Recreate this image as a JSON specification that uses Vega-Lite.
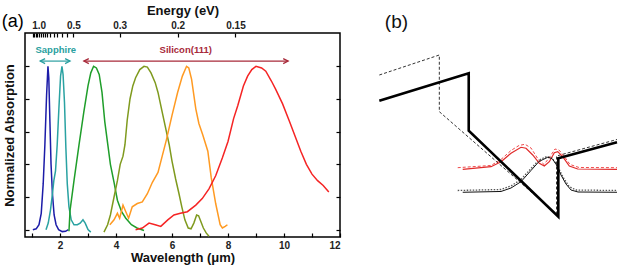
{
  "$schema": "https://vega.github.io/schema/vega-lite/v6.json",
  "padding": {"left": 0, "top": 3, "right": 0, "bottom": 0},
  "spacing": 32,
  "config": {"font": "Liberation Sans", "view": {"stroke": null}},
  "datasets": {
    "spectra": [
      {"band": "1.6 µm", "lam": 1.03, "a": 0.0}, {"band": "1.6 µm", "lam": 1.15, "a": 0.005}, {"band": "1.6 µm", "lam": 1.25, "a": 0.03}, {"band": "1.6 µm", "lam": 1.33, "a": 0.1}, {"band": "1.6 µm", "lam": 1.4, "a": 0.28}, {"band": "1.6 µm", "lam": 1.46, "a": 0.52}, {"band": "1.6 µm", "lam": 1.52, "a": 0.82}, {"band": "1.6 µm", "lam": 1.57, "a": 1.0}, {"band": "1.6 µm", "lam": 1.6, "a": 0.93}, {"band": "1.6 µm", "lam": 1.64, "a": 0.66}, {"band": "1.6 µm", "lam": 1.68, "a": 0.4}, {"band": "1.6 µm", "lam": 1.73, "a": 0.22}, {"band": "1.6 µm", "lam": 1.79, "a": 0.09}, {"band": "1.6 µm", "lam": 1.86, "a": 0.03}, {"band": "1.6 µm", "lam": 1.95, "a": 0.0}, {"band": "1.6 µm", "lam": 2.08, "a": -0.012}, {"band": "1.6 µm", "lam": 2.2, "a": -0.01}, {"band": "1.6 µm", "lam": 2.3, "a": 0.0},
      {"band": "2.1 µm", "lam": 1.5, "a": 0.0}, {"band": "2.1 µm", "lam": 1.58, "a": 0.04}, {"band": "2.1 µm", "lam": 1.66, "a": 0.12}, {"band": "2.1 µm", "lam": 1.73, "a": 0.22}, {"band": "2.1 µm", "lam": 1.78, "a": 0.3}, {"band": "2.1 µm", "lam": 1.84, "a": 0.36}, {"band": "2.1 µm", "lam": 1.9, "a": 0.52}, {"band": "2.1 µm", "lam": 1.96, "a": 0.74}, {"band": "2.1 µm", "lam": 2.02, "a": 0.94}, {"band": "2.1 µm", "lam": 2.07, "a": 1.0}, {"band": "2.1 µm", "lam": 2.11, "a": 0.95}, {"band": "2.1 µm", "lam": 2.16, "a": 0.78}, {"band": "2.1 µm", "lam": 2.21, "a": 0.5}, {"band": "2.1 µm", "lam": 2.26, "a": 0.28}, {"band": "2.1 µm", "lam": 2.32, "a": 0.14}, {"band": "2.1 µm", "lam": 2.4, "a": 0.06}, {"band": "2.1 µm", "lam": 2.5, "a": 0.03}, {"band": "2.1 µm", "lam": 2.62, "a": 0.03}, {"band": "2.1 µm", "lam": 2.72, "a": 0.04}, {"band": "2.1 µm", "lam": 2.82, "a": 0.06}, {"band": "2.1 µm", "lam": 2.9, "a": 0.04}, {"band": "2.1 µm", "lam": 3.0, "a": 0.0}, {"band": "2.1 µm", "lam": 3.1, "a": -0.015},
      {"band": "3.2 µm", "lam": 2.32, "a": -0.01}, {"band": "3.2 µm", "lam": 2.36, "a": 0.12}, {"band": "3.2 µm", "lam": 2.5, "a": 0.3}, {"band": "3.2 µm", "lam": 2.68, "a": 0.52}, {"band": "3.2 µm", "lam": 2.85, "a": 0.72}, {"band": "3.2 µm", "lam": 3.0, "a": 0.88}, {"band": "3.2 µm", "lam": 3.1, "a": 0.96}, {"band": "3.2 µm", "lam": 3.2, "a": 1.0}, {"band": "3.2 µm", "lam": 3.3, "a": 0.99}, {"band": "3.2 µm", "lam": 3.4, "a": 0.95}, {"band": "3.2 µm", "lam": 3.5, "a": 0.84}, {"band": "3.2 µm", "lam": 3.6, "a": 0.66}, {"band": "3.2 µm", "lam": 3.7, "a": 0.53}, {"band": "3.2 µm", "lam": 3.8, "a": 0.4}, {"band": "3.2 µm", "lam": 3.93, "a": 0.29}, {"band": "3.2 µm", "lam": 4.05, "a": 0.18}, {"band": "3.2 µm", "lam": 4.2, "a": 0.11}, {"band": "3.2 µm", "lam": 4.35, "a": 0.07}, {"band": "3.2 µm", "lam": 4.55, "a": 0.03}, {"band": "3.2 µm", "lam": 4.75, "a": 0.01}, {"band": "3.2 µm", "lam": 5.0, "a": -0.005},
      {"band": "5.0 µm", "lam": 3.57, "a": -0.015}, {"band": "5.0 µm", "lam": 3.7, "a": 0.03}, {"band": "5.0 µm", "lam": 3.8, "a": 0.09}, {"band": "5.0 µm", "lam": 3.93, "a": 0.2}, {"band": "5.0 µm", "lam": 4.05, "a": 0.3}, {"band": "5.0 µm", "lam": 4.15, "a": 0.4}, {"band": "5.0 µm", "lam": 4.25, "a": 0.45}, {"band": "5.0 µm", "lam": 4.32, "a": 0.52}, {"band": "5.0 µm", "lam": 4.4, "a": 0.67}, {"band": "5.0 µm", "lam": 4.5, "a": 0.8}, {"band": "5.0 µm", "lam": 4.6, "a": 0.88}, {"band": "5.0 µm", "lam": 4.7, "a": 0.93}, {"band": "5.0 µm", "lam": 4.85, "a": 0.98}, {"band": "5.0 µm", "lam": 5.0, "a": 1.0}, {"band": "5.0 µm", "lam": 5.12, "a": 0.995}, {"band": "5.0 µm", "lam": 5.25, "a": 0.96}, {"band": "5.0 µm", "lam": 5.4, "a": 0.9}, {"band": "5.0 µm", "lam": 5.5, "a": 0.84}, {"band": "5.0 µm", "lam": 5.65, "a": 0.72}, {"band": "5.0 µm", "lam": 5.8, "a": 0.6}, {"band": "5.0 µm", "lam": 5.9, "a": 0.52}, {"band": "5.0 µm", "lam": 6.0, "a": 0.42}, {"band": "5.0 µm", "lam": 6.13, "a": 0.31}, {"band": "5.0 µm", "lam": 6.25, "a": 0.22}, {"band": "5.0 µm", "lam": 6.35, "a": 0.14}, {"band": "5.0 µm", "lam": 6.46, "a": 0.06}, {"band": "5.0 µm", "lam": 6.58, "a": 0.01}, {"band": "5.0 µm", "lam": 6.68, "a": 0.005}, {"band": "5.0 µm", "lam": 6.78, "a": 0.04}, {"band": "5.0 µm", "lam": 6.88, "a": 0.09}, {"band": "5.0 µm", "lam": 6.95, "a": 0.085}, {"band": "5.0 µm", "lam": 7.03, "a": 0.05}, {"band": "5.0 µm", "lam": 7.12, "a": 0.01}, {"band": "5.0 µm", "lam": 7.22, "a": -0.02}, {"band": "5.0 µm", "lam": 7.32, "a": -0.04},
      {"band": "6.5 µm", "lam": 3.78, "a": 0.03}, {"band": "6.5 µm", "lam": 3.93, "a": 0.06}, {"band": "6.5 µm", "lam": 4.05, "a": 0.1}, {"band": "6.5 µm", "lam": 4.13, "a": 0.07}, {"band": "6.5 µm", "lam": 4.25, "a": 0.15}, {"band": "6.5 µm", "lam": 4.35, "a": 0.11}, {"band": "6.5 µm", "lam": 4.45, "a": 0.07}, {"band": "6.5 µm", "lam": 4.58, "a": 0.14}, {"band": "6.5 µm", "lam": 4.76, "a": 0.16}, {"band": "6.5 µm", "lam": 4.94, "a": 0.17}, {"band": "6.5 µm", "lam": 5.12, "a": 0.22}, {"band": "6.5 µm", "lam": 5.3, "a": 0.29}, {"band": "6.5 µm", "lam": 5.5, "a": 0.35}, {"band": "6.5 µm", "lam": 5.65, "a": 0.45}, {"band": "6.5 µm", "lam": 5.8, "a": 0.55}, {"band": "6.5 µm", "lam": 6.0, "a": 0.7}, {"band": "6.5 µm", "lam": 6.2, "a": 0.84}, {"band": "6.5 µm", "lam": 6.37, "a": 0.94}, {"band": "6.5 µm", "lam": 6.52, "a": 1.0}, {"band": "6.5 µm", "lam": 6.6, "a": 0.99}, {"band": "6.5 µm", "lam": 6.7, "a": 0.92}, {"band": "6.5 µm", "lam": 6.85, "a": 0.74}, {"band": "6.5 µm", "lam": 6.96, "a": 0.65}, {"band": "6.5 µm", "lam": 7.1, "a": 0.58}, {"band": "6.5 µm", "lam": 7.28, "a": 0.48}, {"band": "6.5 µm", "lam": 7.4, "a": 0.32}, {"band": "6.5 µm", "lam": 7.56, "a": 0.16}, {"band": "6.5 µm", "lam": 7.72, "a": 0.03}, {"band": "6.5 µm", "lam": 7.8, "a": 0.01}, {"band": "6.5 µm", "lam": 7.9, "a": 0.02}, {"band": "6.5 µm", "lam": 7.98, "a": 0.03},
      {"band": "9.0 µm", "lam": 4.7, "a": 0.0}, {"band": "9.0 µm", "lam": 4.94, "a": 0.01}, {"band": "9.0 µm", "lam": 5.18, "a": 0.04}, {"band": "9.0 µm", "lam": 5.4, "a": 0.03}, {"band": "9.0 µm", "lam": 5.6, "a": 0.02}, {"band": "9.0 µm", "lam": 5.85, "a": 0.06}, {"band": "9.0 µm", "lam": 6.07, "a": 0.09}, {"band": "9.0 µm", "lam": 6.3, "a": 0.1}, {"band": "9.0 µm", "lam": 6.55, "a": 0.11}, {"band": "9.0 µm", "lam": 6.85, "a": 0.15}, {"band": "9.0 µm", "lam": 7.08, "a": 0.19}, {"band": "9.0 µm", "lam": 7.32, "a": 0.25}, {"band": "9.0 µm", "lam": 7.56, "a": 0.33}, {"band": "9.0 µm", "lam": 7.8, "a": 0.44}, {"band": "9.0 µm", "lam": 8.0, "a": 0.54}, {"band": "9.0 µm", "lam": 8.2, "a": 0.68}, {"band": "9.0 µm", "lam": 8.35, "a": 0.76}, {"band": "9.0 µm", "lam": 8.55, "a": 0.88}, {"band": "9.0 µm", "lam": 8.7, "a": 0.94}, {"band": "9.0 µm", "lam": 8.85, "a": 0.98}, {"band": "9.0 µm", "lam": 9.0, "a": 1.0}, {"band": "9.0 µm", "lam": 9.2, "a": 0.99}, {"band": "9.0 µm", "lam": 9.35, "a": 0.97}, {"band": "9.0 µm", "lam": 9.55, "a": 0.91}, {"band": "9.0 µm", "lam": 9.7, "a": 0.86}, {"band": "9.0 µm", "lam": 9.95, "a": 0.77}, {"band": "9.0 µm", "lam": 10.2, "a": 0.66}, {"band": "9.0 µm", "lam": 10.4, "a": 0.57}, {"band": "9.0 µm", "lam": 10.6, "a": 0.48}, {"band": "9.0 µm", "lam": 10.8, "a": 0.4}, {"band": "9.0 µm", "lam": 11.0, "a": 0.34}, {"band": "9.0 µm", "lam": 11.2, "a": 0.3}, {"band": "9.0 µm", "lam": 11.4, "a": 0.27}, {"band": "9.0 µm", "lam": 11.6, "a": 0.23}
    ],
    "ranges": [
      {"band": "Sapphire", "from": 1.29, "to": 2.36, "a": 1.032, "mid": 1.85, "ta": 1.1},
      {"band": "Silicon(111)", "from": 2.85, "to": 10.15, "a": 1.032, "mid": 6.49, "ta": 1.1}
    ],
    "schematic": [
      {"curve": "band", "i": 0, "x": 0.83, "y": 34.08}, {"curve": "band", "i": 1, "x": 23.18, "y": 40.93}, {"curve": "band", "i": 2, "x": 23.18, "y": 26.58}, {"curve": "band", "i": 3, "x": 45.58, "y": 5.08}, {"curve": "band", "i": 4, "x": 45.58, "y": 19.68}, {"curve": "band", "i": 5, "x": 60.25, "y": 23.68},
      {"curve": "band2", "i": 0, "x": 0.83, "y": 40.5}, {"curve": "band2", "i": 1, "x": 15.83, "y": 45.5}, {"curve": "band2", "i": 2, "x": 15.83, "y": 31.33}, {"curve": "band2", "i": 3, "x": 45.13, "y": 5.75}, {"curve": "band2", "i": 4, "x": 45.13, "y": 20.25}, {"curve": "band2", "i": 5, "x": 60.25, "y": 24.38},
      {"curve": "red", "i": 0, "x": 21.68, "y": 16.93}, {"curve": "red", "i": 1, "x": 28.75, "y": 17.58}, {"curve": "red", "i": 2, "x": 31.25, "y": 18.83}, {"curve": "red", "i": 3, "x": 33.75, "y": 20.93}, {"curve": "red", "i": 4, "x": 36.25, "y": 22.43}, {"curve": "red", "i": 5, "x": 37.5, "y": 22.18}, {"curve": "red", "i": 6, "x": 39.18, "y": 20.5}, {"curve": "red", "i": 7, "x": 40.83, "y": 18.43}, {"curve": "red", "i": 8, "x": 42.08, "y": 17.75}, {"curve": "red", "i": 9, "x": 43.33, "y": 18.83}, {"curve": "red", "i": 10, "x": 44.58, "y": 21.08}, {"curve": "red", "i": 11, "x": 45.43, "y": 21.33}, {"curve": "red", "i": 12, "x": 46.68, "y": 20.08}, {"curve": "red", "i": 13, "x": 48.33, "y": 17.75}, {"curve": "red", "i": 14, "x": 50.43, "y": 17.0}, {"curve": "red", "i": 15, "x": 60.25, "y": 16.93},
      {"curve": "red2", "i": 0, "x": 20.43, "y": 17.33}, {"curve": "red2", "i": 1, "x": 28.75, "y": 17.88}, {"curve": "red2", "i": 2, "x": 31.25, "y": 19.38}, {"curve": "red2", "i": 3, "x": 33.75, "y": 21.63}, {"curve": "red2", "i": 4, "x": 35.75, "y": 22.88}, {"curve": "red2", "i": 5, "x": 37.25, "y": 23.18}, {"curve": "red2", "i": 6, "x": 38.75, "y": 22.25}, {"curve": "red2", "i": 7, "x": 40.5, "y": 19.5}, {"curve": "red2", "i": 8, "x": 42.0, "y": 18.13}, {"curve": "red2", "i": 9, "x": 43.25, "y": 19.75}, {"curve": "red2", "i": 10, "x": 44.75, "y": 22.0}, {"curve": "red2", "i": 11, "x": 45.75, "y": 21.75}, {"curve": "red2", "i": 12, "x": 47.0, "y": 20.25}, {"curve": "red2", "i": 13, "x": 48.5, "y": 18.13}, {"curve": "red2", "i": 14, "x": 50.75, "y": 17.38}, {"curve": "red2", "i": 15, "x": 60.25, "y": 17.33},
      {"curve": "black", "i": 0, "x": 21.68, "y": 11.18}, {"curve": "black", "i": 1, "x": 31.25, "y": 11.38}, {"curve": "black", "i": 2, "x": 33.75, "y": 12.25}, {"curve": "black", "i": 3, "x": 36.25, "y": 13.83}, {"curve": "black", "i": 4, "x": 38.75, "y": 16.63}, {"curve": "black", "i": 5, "x": 40.75, "y": 18.88}, {"curve": "black", "i": 6, "x": 42.93, "y": 19.93}, {"curve": "black", "i": 7, "x": 44.0, "y": 19.63}, {"curve": "black", "i": 8, "x": 45.0, "y": 18.25}, {"curve": "black", "i": 9, "x": 46.25, "y": 15.5}, {"curve": "black", "i": 10, "x": 47.5, "y": 13.25}, {"curve": "black", "i": 11, "x": 48.75, "y": 11.75}, {"curve": "black", "i": 12, "x": 50.5, "y": 11.25}, {"curve": "black", "i": 13, "x": 60.25, "y": 11.18},
      {"curve": "black2", "i": 0, "x": 20.43, "y": 11.63}, {"curve": "black2", "i": 1, "x": 31.25, "y": 11.88}, {"curve": "black2", "i": 2, "x": 33.75, "y": 12.75}, {"curve": "black2", "i": 3, "x": 36.25, "y": 14.38}, {"curve": "black2", "i": 4, "x": 38.75, "y": 17.13}, {"curve": "black2", "i": 5, "x": 40.75, "y": 19.25}, {"curve": "black2", "i": 6, "x": 42.75, "y": 20.13}, {"curve": "black2", "i": 7, "x": 44.0, "y": 19.75}, {"curve": "black2", "i": 8, "x": 45.25, "y": 18.0}, {"curve": "black2", "i": 9, "x": 46.75, "y": 15.0}, {"curve": "black2", "i": 10, "x": 48.25, "y": 12.63}, {"curve": "black2", "i": 11, "x": 50.0, "y": 11.75}, {"curve": "black2", "i": 12, "x": 60.25, "y": 11.63}
    ]
  },
  "hconcat": [
    {
      "width": 315,
      "height": 204,
      "view": {"stroke": "black", "strokeWidth": 1.5},
      "resolve": {"axis": {"x": "independent", "y": "independent"}},
      "layer": [
        {
          "data": {"name": "spectra"},
          "mark": {"type": "line", "strokeWidth": 1.5},
          "encoding": {
            "x": {"field": "lam", "type": "quantitative", "scale": {"domain": [0.75, 12], "nice": false, "zero": false},
              "axis": {"orient": "bottom", "values": [1, 2, 3, 4, 5, 6, 7, 8, 9, 10, 11, 12], "labelExpr": "datum.value % 2 == 0 ? datum.label : ''",
                "domain": false, "grid": false, "tickSize": -4, "tickColor": "black", "tickWidth": 1.2, "labelPadding": 7,
                "labelFontSize": 10, "labelFontWeight": "bold", "labelColor": "#222", "labelFont": "Liberation Sans",
                "title": "Wavelength (μm)", "titleFontSize": 13, "titleFontWeight": "bold", "titleColor": "#111", "titlePadding": 1, "titleFont": "Liberation Sans"}},
            "y": {"field": "a", "type": "quantitative", "scale": {"domain": [-0.045, 1.204], "nice": false, "zero": false},
              "axis": {"orient": "left", "values": [0, 0.2, 0.4, 0.6, 0.8, 1.0], "labels": false, "domain": false, "grid": false,
                "tickSize": -4, "tickColor": "black", "tickWidth": 1.2,
                "title": "Normalized Absorption", "titleFontSize": 13, "titleFontWeight": "bold", "titleColor": "#111", "titlePadding": 8, "titleFont": "Liberation Sans"}},
            "color": {"field": "band", "type": "nominal",
              "scale": {"domain": ["1.6 µm", "2.1 µm", "3.2 µm", "5.0 µm", "6.5 µm", "9.0 µm", "Sapphire", "Silicon(111)"],
                "range": ["#1c1ca8", "#2aa2a2", "#1f9e2a", "#7f9a1e", "#ff9a22", "#f52424", "#2a9fa0", "#a82a3a"]},
              "legend": null}
          }
        },
        {
          "data": {"name": "ranges"},
          "mark": {"type": "rule", "strokeWidth": 1.2},
          "encoding": {
            "x": {"field": "from", "type": "quantitative",
              "axis": {"orient": "top", "values": [1.0333, 1.0783, 1.1273, 1.1809, 1.24, 1.3053, 1.3778, 1.4588, 1.55, 1.6533, 1.7714, 1.9077, 2.0667, 2.2545, 2.48, 4.1333, 6.2, 8.2667],
                "labelExpr": "datum.value == 1.24 ? '1.0' : datum.value == 2.48 ? '0.5' : datum.value == 4.1333 ? '0.3' : datum.value == 6.2 ? '0.2' : datum.value == 8.2667 ? '0.15' : ''",
                "domain": false, "grid": false, "tickSize": -4, "tickColor": "black", "tickWidth": 1.2, "labelPadding": 7,
                "labelFontSize": 10, "labelFontWeight": "bold", "labelColor": "#222", "labelFont": "Liberation Sans",
                "title": "Energy (eV)", "titleFontSize": 13, "titleFontWeight": "bold", "titleColor": "#111", "titlePadding": 3, "titleFont": "Liberation Sans"}},
            "x2": {"field": "to"},
            "y": {"field": "a", "type": "quantitative",
              "axis": {"orient": "right", "values": [0, 0.2, 0.4, 0.6, 0.8, 1.0], "labels": false, "domain": false, "grid": false,
                "tickSize": -4, "tickColor": "black", "tickWidth": 1.2, "title": null}},
            "color": {"field": "band", "type": "nominal"}
          }
        },
        {
          "data": {"name": "ranges"},
          "mark": {"type": "point", "shape": "M2,-1L0,0L2,1", "size": 25, "filled": false, "strokeWidth": 1.2, "opacity": 1},
          "encoding": {
            "x": {"field": "from", "type": "quantitative", "axis": null},
            "y": {"field": "a", "type": "quantitative", "axis": null},
            "color": {"field": "band", "type": "nominal"}
          }
        },
        {
          "data": {"name": "ranges"},
          "mark": {"type": "point", "shape": "M-2,-1L0,0L-2,1", "size": 25, "filled": false, "strokeWidth": 1.2, "opacity": 1},
          "encoding": {
            "x": {"field": "to", "type": "quantitative", "axis": null},
            "y": {"field": "a", "type": "quantitative", "axis": null},
            "color": {"field": "band", "type": "nominal"}
          }
        },
        {
          "data": {"name": "ranges"},
          "mark": {"type": "text", "fontSize": 9.5, "fontWeight": "bold", "baseline": "middle", "align": "center", "font": "Liberation Sans"},
          "encoding": {
            "x": {"field": "mid", "type": "quantitative", "axis": null},
            "y": {"field": "ta", "type": "quantitative", "axis": null},
            "text": {"field": "band"},
            "color": {"field": "band", "type": "nominal"}
          }
        },
        {
          "data": {"values": [{"lam": -0.082, "a": 1.239, "label": "(a)"}]},
          "mark": {"type": "text", "fontSize": 18, "align": "left", "baseline": "alphabetic", "color": "black", "font": "Liberation Sans"},
          "encoding": {
            "x": {"field": "lam", "type": "quantitative", "axis": null},
            "y": {"field": "a", "type": "quantitative", "axis": null},
            "text": {"field": "label"}
          }
        }
      ]
    },
    {
      "width": 247,
      "height": 204,
      "data": {"name": "schematic"},
      "encoding": {
        "x": {"field": "x", "type": "quantitative", "scale": {"domain": [0, 61.75], "nice": false, "zero": false}, "axis": null},
        "y": {"field": "y", "type": "quantitative", "scale": {"domain": [0, 51], "nice": false, "zero": false}, "axis": null},
        "order": {"field": "i", "type": "quantitative"}
      },
      "layer": [
        {"transform": [{"filter": "datum.curve == 'band2'"}], "mark": {"type": "line", "color": "#333", "strokeWidth": 1, "strokeDash": [3, 2]}},
        {"transform": [{"filter": "datum.curve == 'red2'"}], "mark": {"type": "line", "color": "#f04a4a", "strokeWidth": 1, "strokeDash": [3, 2]}},
        {"transform": [{"filter": "datum.curve == 'black2'"}], "mark": {"type": "line", "color": "#555", "strokeWidth": 1.3, "strokeDash": [1.5, 1.5]}},
        {"transform": [{"filter": "datum.curve == 'red'"}], "mark": {"type": "line", "color": "#e02a2a", "strokeWidth": 1.2}},
        {"transform": [{"filter": "datum.curve == 'black'"}], "mark": {"type": "line", "color": "#111", "strokeWidth": 1}},
        {"transform": [{"filter": "datum.curve == 'band'"}], "mark": {"type": "line", "color": "#000", "strokeWidth": 2.6}},
        {
          "data": {"values": [{"x": 2.2, "y": 52.2, "label": "(b)"}]},
          "mark": {"type": "text", "fontSize": 19, "align": "left", "baseline": "alphabetic", "color": "#111", "font": "Liberation Sans"},
          "encoding": {
            "x": {"field": "x", "type": "quantitative"},
            "y": {"field": "y", "type": "quantitative"},
            "text": {"field": "label"}
          }
        }
      ]
    }
  ]
}
